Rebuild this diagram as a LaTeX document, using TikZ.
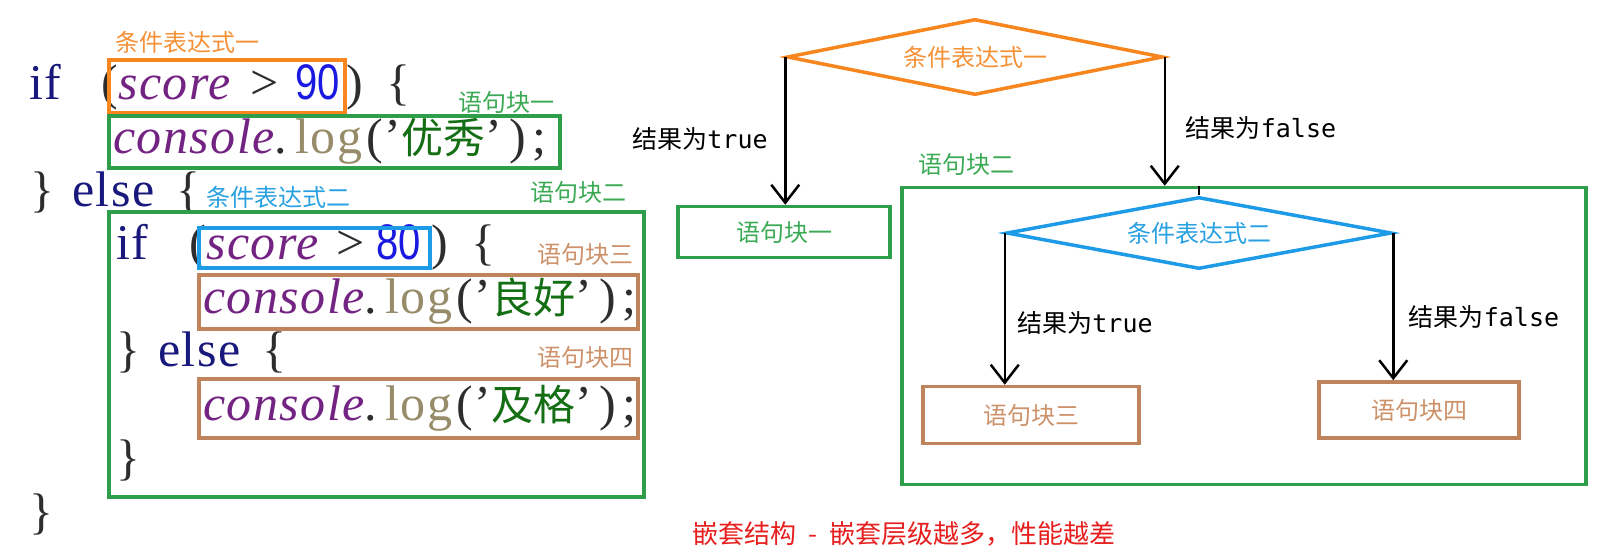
\documentclass[tikz,border=0pt]{standalone}
\usepackage{fontspec}
\setmainfont{Liberation Serif}
\newfontfamily\codefont[LetterSpace=3]{Liberation Serif}
\newfontfamily\cjk{Noto Sans CJK SC}
\newfontfamily\numfont[FakeStretch=0.8]{Liberation Sans}
\newfontfamily\monofont{DejaVu Sans Mono}
\usetikzlibrary{arrows.meta,shapes.geometric}

\definecolor{condorange}{RGB}{247,134,31}
\definecolor{blockgreen}{RGB}{46,158,74}
\definecolor{condblue}{RGB}{30,155,230}
\definecolor{blockbrown}{RGB}{192,132,92}
\definecolor{lblorange}{RGB}{245,145,55}
\definecolor{lblgreen}{RGB}{60,170,85}
\definecolor{lblblue}{RGB}{40,160,225}
\definecolor{lblbrown}{RGB}{205,145,105}
\definecolor{kwnavy}{RGB}{25,25,125}
\definecolor{idpurple}{RGB}{115,35,130}
\definecolor{numblue}{RGB}{25,25,225}
\definecolor{logolive}{RGB}{150,140,105}
\definecolor{strgreen}{RGB}{20,110,20}
\definecolor{bracegray}{RGB}{45,45,45}
\definecolor{notered}{RGB}{230,30,30}

\tikzset{
  code/.style={anchor=base west,inner sep=0pt,text=bracegray,
    font=\codefont\fontsize{50}{50}\selectfont},
  tag/.style={inner sep=0pt,font=\cjk\fontsize{24}{24}\selectfont},
  box/.style={draw=#1,line width=3.5pt},
  decision/.style={diamond,draw=cond#1,line width=3.5pt,aspect=5,inner sep=0pt,
    text=lbl#1,font=\cjk\fontsize{24}{24}\selectfont},
  block/.style={rectangle,draw=block#1,line width=3.5pt,inner sep=0pt,
    text=lbl#1,font=\cjk\fontsize{24}{24}\selectfont},
  result/.style={inner sep=0pt,font=\fontsize{25}{25}\selectfont},
  arr/.style={line width=2.5pt,-{Straight Barb[length=18pt,width=28pt,line width=2.5pt]}},
}

\begin{document}
\begin{tikzpicture}[x=1pt,y=-1pt]
  \useasboundingbox (0,0) rectangle (1597,558);

  % code on the left
  \node[tag,text=lblorange] (tagc1) at (187,42) {条件表达式一};
  \node[code,text=kwnavy] (if1) at (29,99) {if};
  \node[code] (lp1) at (101,99) {(};
  \node[code,text=idpurple] (sc1) at (118,99) {\itshape score};
  \node[code] (gt1) at (250,99) {>};
  \node[code,text=numblue] (n90) at (295,99) {\numfont 90};
  \node[code] (rp1) at (346,99) {)\hspace{24pt}\{};
  \draw[box=condorange] (109,60) rectangle (345,113);

  \node[tag,text=lblgreen] (tagb1) at (506,102) {语句块一};
  \node[code] (log1) at (113,153) {\textcolor{idpurple}{\itshape console}.\hspace{8pt}\textcolor{logolive}{log}\hspace{4pt}(’{\cjk\fontsize{42}{42}\selectfont\textcolor{strgreen}{优秀}}’\hspace{8pt})\hspace{6pt};};
  \draw[box=blockgreen] (109,116) rectangle (560,168);

  \node[code] (cl1) at (30,206) {\}\hspace{18pt}\textcolor{kwnavy}{else}\hspace{22pt}\{};
  \node[tag,text=lblblue,anchor=west] (tagc2) at (206,197) {条件表达式二};
  \node[tag,text=lblgreen] (tagb2) at (578,192) {语句块二};
  \draw[box=blockgreen] (109,212) rectangle (644,497);

  \node[code,text=kwnavy] (if2) at (116,259) {if};
  \node[code] (lp2) at (189,259) {(};
  \node[code,text=idpurple] (sc2) at (206,259) {\itshape score};
  \node[code] (gt2) at (336,259) {>};
  \node[code,text=numblue] (n80) at (376,259) {\numfont 80};
  \node[code] (rp2) at (431,259) {)\hspace{24pt}\{};
  \draw[box=condblue] (199,228) rectangle (430,268);

  \node[tag,text=lblbrown] (tagb3) at (585,254) {语句块三};
  \node[code] (log3) at (203,313) {\textcolor{idpurple}{\itshape console}.\hspace{8pt}\textcolor{logolive}{log}\hspace{4pt}(’{\cjk\fontsize{42}{42}\selectfont\textcolor{strgreen}{良好}}’\hspace{8pt})\hspace{6pt};};
  \draw[box=blockbrown] (199,275) rectangle (638,329);

  \node[code] (cl2) at (116,366) {\}\hspace{18pt}\textcolor{kwnavy}{else}\hspace{22pt}\{};
  \node[tag,text=lblbrown] (tagb4) at (585,357) {语句块四};
  \node[code] (log4) at (203,420) {\textcolor{idpurple}{\itshape console}.\hspace{8pt}\textcolor{logolive}{log}\hspace{4pt}(’{\cjk\fontsize{42}{42}\selectfont\textcolor{strgreen}{及格}}’\hspace{8pt})\hspace{6pt};};
  \draw[box=blockbrown] (199,379) rectangle (638,438);

  \node[code] (cl3) at (116,474) {\}};
  \node[code] (cl4) at (29,528) {\}};

  % flow chart on the right
  \node[decision=orange,minimum width=376,minimum height=76] (d1) at (975,57) {条件表达式一};
  \node[block=green,minimum width=212,minimum height=51] (b1) at (784,232) {语句块一};
  \node[draw=blockgreen,line width=3.5pt,minimum width=684,minimum height=297] (b2) at (1244,336) {};
  \node[tag,text=lblgreen] (tagr2) at (966,164) {语句块二};
  \node[decision=blue,minimum width=385,minimum height=72] (d2) at (1199,233) {条件表达式二};
  \node[block=brown,minimum width=216,minimum height=57] (b3) at (1031,415) {语句块三};
  \node[block=brown,minimum width=200,minimum height=56] (b4) at (1419,410) {语句块四};

  \draw[arr] (d1.west) -- (d1.west |- b1.north);
  \draw[arr] (d1.east) -- (d1.east |- b2.north);
  \draw[line width=2pt] (d2.north |- b2.north) -- (d2.north);
  \draw[arr] (d2.west) -- (d2.west |- b3.north);
  \draw[arr] (d2.east) -- (d2.east |- b4.north);

  \node[result] (t1) at (700,139) {\cjk 结果为\monofont true};
  \node[result] (f1) at (1261,128) {\cjk 结果为\monofont false};
  \node[result] (t2) at (1085,323) {\cjk 结果为\monofont true};
  \node[result] (f2) at (1484,317) {\cjk 结果为\monofont false};

  \node[tag,text=notered,font=\cjk\fontsize{26}{26}\selectfont] (note) at (904,534) {嵌套结构\hspace{12pt}-\hspace{12pt}嵌套层级越多，性能越差};
\end{tikzpicture}
\end{document}
